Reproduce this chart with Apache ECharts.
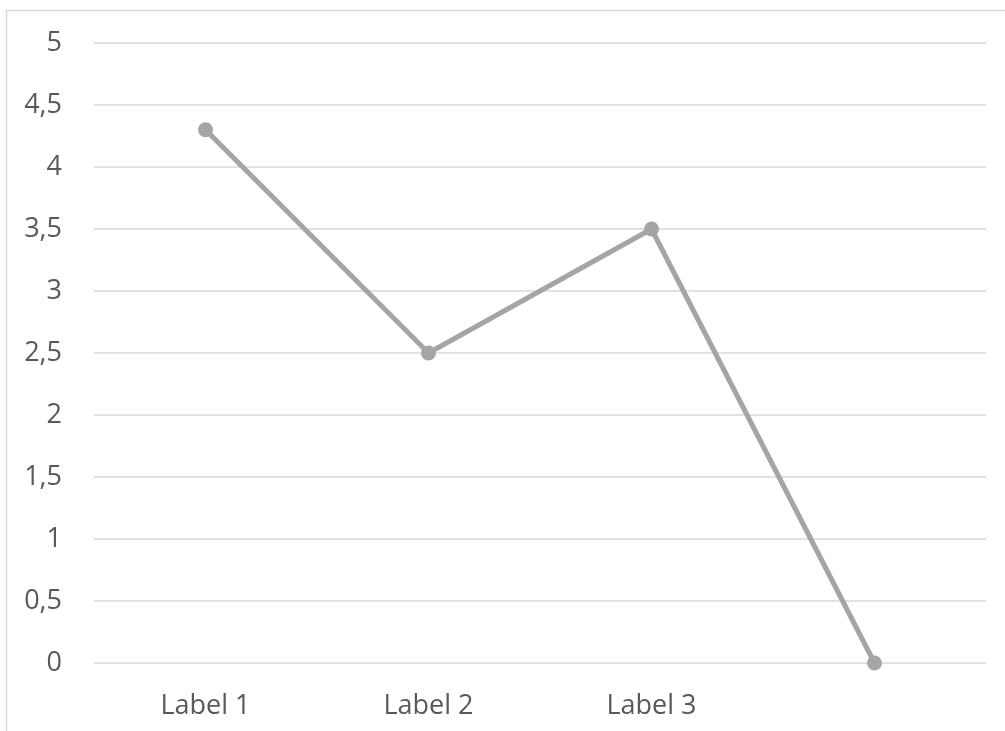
<!DOCTYPE html>
<html>
<head>
<meta charset="utf-8">
<style>
  html, body { margin: 0; padding: 0; background: #ffffff; }
  #chart { width: 1005px; height: 731px; }
</style>
<script src="https://cdn.jsdelivr.net/npm/echarts@6/dist/echarts.min.js"></script>
</head>
<body>
<div id="chart"></div>
<script>
// Categories along the x axis (the last one has no label)
const categories = ['Label 1', 'Label 2', 'Label 3', ''];
// Series values
const values = [4.3, 2.5, 3.5, 0];
// Value axis range
const yMin = 0;
const yMax = 5;
const yStep = 0.5;

const chart = echarts.init(document.getElementById('chart'), null, { renderer: 'canvas' });

const textColor = '#595959';
const gridColor = '#d9d9d9';
const font = '"Open Sans", "Liberation Sans", sans-serif';

chart.setOption({
  animation: false,
  backgroundColor: '#ffffff',
  graphic: [{
    type: 'rect',
    silent: true,
    shape: { x: 6.5, y: 10.5, width: 1100, height: 800 },
    style: { fill: 'none', stroke: gridColor, lineWidth: 1.5 }
  }],
  grid: { left: 94, right: 19, top: 43, bottom: 68, containLabel: false },
  xAxis: {
    type: 'category',
    data: categories,
    boundaryGap: true,
    axisLine: { show: false },
    axisTick: { show: false },
    axisLabel: {
      color: textColor,
      fontFamily: font,
      fontSize: 27,
      margin: 30
    },
    splitLine: { show: false }
  },
  yAxis: {
    type: 'value',
    min: yMin,
    max: yMax,
    interval: yStep,
    axisLine: { show: false },
    axisTick: { show: false },
    axisLabel: {
      color: textColor,
      fontFamily: font,
      fontSize: 27,
      margin: 32,
      formatter: v => String(v).replace('.', ',')
    },
    splitLine: { show: true, lineStyle: { color: gridColor, width: 1.5 } }
  },
  series: [{
    type: 'line',
    data: values,
    symbol: 'circle',
    symbolSize: 15,
    itemStyle: { color: '#a5a5a5' },
    lineStyle: { color: '#a5a5a5', width: 5 },
    z: 3
  }]
});
</script>
</body>
</html>
